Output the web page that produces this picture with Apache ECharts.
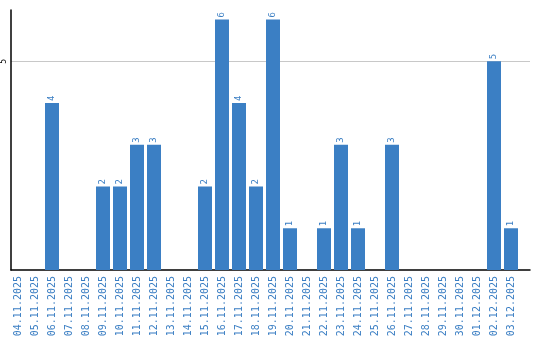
<!DOCTYPE html>
<html><head><meta charset="utf-8">
<script src="https://cdn.jsdelivr.net/npm/echarts@6/dist/echarts.min.js"></script>
<style>html,body{margin:0;padding:0;background:#fff}#c{width:540px;height:340px}</style>
</head><body><div id="c"></div>
<script>
const categories = ["04.11.2025","05.11.2025","06.11.2025","07.11.2025","08.11.2025","09.11.2025","10.11.2025","11.11.2025","12.11.2025","13.11.2025","14.11.2025","15.11.2025","16.11.2025","17.11.2025","18.11.2025","19.11.2025","20.11.2025","21.11.2025","22.11.2025","23.11.2025","24.11.2025","25.11.2025","26.11.2025","27.11.2025","28.11.2025","29.11.2025","30.11.2025","01.12.2025","02.12.2025","03.12.2025"];
const values = [0,0,4,0,0,2,2,3,3,0,0,2,6,4,2,6,1,0,1,3,1,0,3,0,0,0,0,0,5,1];
const yTicks = [5];

const yMax = 6.23;
const chart = echarts.init(document.getElementById('c'));
chart.setOption({
  animation: false,
  grid: [
    {left: 9.5, right: 20.5, top: 10, bottom: 70},
    {left: 10, right: 10, top: 10, bottom: 70}
  ],
  xAxis: [{
    gridIndex: 0, type: 'category', data: categories,
    axisLine: {show: false},
    axisTick: {show: false},
    axisLabel: {rotate: 90, color: '#3a7ec3', fontFamily: 'DejaVu Sans Mono', fontSize: 10, interval: 0, margin: 6}
  }, {
    gridIndex: 1, type: 'value', min: 0, max: 1,
    axisLine: {show: true, lineStyle: {color: '#000', width: 1.5}},
    axisTick: {show: false}, axisLabel: {show: false}, splitLine: {show: false}
  }],
  yAxis: [{
    gridIndex: 0, type: 'value', min: 0, max: yMax, interval: 5,
    axisLine: {show: false}, axisTick: {show: false}, axisLabel: {show: false}, splitLine: {show: false}
  }, {
    gridIndex: 1, type: 'value', min: 0, max: yMax, interval: 5,
    axisLine: {show: true, lineStyle: {color: '#000', width: 1.5}},
    axisTick: {show: false},
    splitLine: {show: true, showMinLine: false, showMaxLine: false, lineStyle: {color: '#c8c8c8', width: 1}},
    axisLabel: {rotate: 90, fontSize: 8, color: '#000', fontFamily: 'DejaVu Sans Mono', margin: 3,
      formatter: v => yTicks.includes(v) ? String(v) : ''}
  }],
  series: [{
    type: 'bar', xAxisIndex: 0, yAxisIndex: 0, z: 3,
    data: values.map(v => v === 0 ? null : v),
    barWidth: 14,
    itemStyle: {color: '#3b7fc4'},
    label: {show: true, position: 'top', rotate: 90, align: 'left', verticalAlign: 'middle', distance: 2,
      color: '#3a7ec3', fontSize: 9, fontFamily: 'DejaVu Sans Mono'}
  }]
});
</script></body></html>
